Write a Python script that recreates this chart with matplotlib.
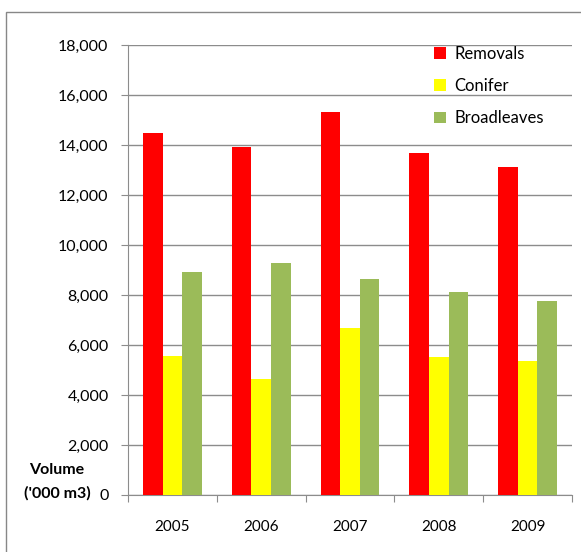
import numpy as np
import matplotlib
matplotlib.use('Agg')
import matplotlib.pyplot as plt
from matplotlib.patches import Rectangle
from matplotlib.ticker import FuncFormatter

plt.rcParams['font.family'] = ['Lato', 'DejaVu Sans']

years = ['2005', '2006', '2007', '2008', '2009']
removals = [14470, 13930, 15310, 13670, 13120]
conifer = [5570, 4640, 6670, 5520, 5360]
broadleaves = [8910, 9280, 8630, 8130, 7760]

series = [
    ('Removals', removals, '#ff0000'),
    ('Conifer', conifer, '#ffff00'),
    ('Broadleaves', broadleaves, '#9bbb59'),
]

fig = plt.figure(figsize=(5.81, 5.52), dpi=100)
ax = fig.add_axes([128 / 581, 1 - 495 / 552, 444 / 581, 450 / 552])

# outer chart frame (left and top edges show inside the canvas)
fig.patches.append(Rectangle((6 / 581, -0.1), 1.2, 1 - 12 / 552 + 0.1,
                             transform=fig.transFigure, fill=False,
                             edgecolor='#878787', linewidth=1.0, zorder=0))

x = np.arange(len(years))
width = 0.22
for k, (name, vals, color) in enumerate(series):
    ax.bar(x + (k - 1) * width, vals, width, color=color, label=name, zorder=3)

ax.set_xlim(-0.5, len(years) - 0.5)
ax.set_ylim(0, 18000)
ax.set_yticks(np.arange(0, 18001, 2000))
ax.yaxis.set_major_formatter(FuncFormatter(lambda v, p: f'{int(v):,}'))
ax.yaxis.grid(True, color='#8c8c8c', linewidth=1.0, zorder=0)

# category ticks sit on the group boundaries
ax.set_xticks(np.arange(-0.5, len(years)), minor=False)
ax.set_xticklabels([])
ax.set_xticks(x, minor=True)
ax.set_xticklabels(years, minor=True)
ax.tick_params(axis='x', which='major', length=5, color='#8c8c8c', direction='out')
ax.tick_params(axis='x', which='minor', length=0, pad=18, labelsize=11)
ax.tick_params(axis='y', length=5, color='#8c8c8c', labelsize=11.5, pad=9)

for side in ['top', 'right']:
    ax.spines[side].set_visible(False)
for side in ['left', 'bottom']:
    ax.spines[side].set_color('#8c8c8c')

fig.text(57 / 581, 1 - 482 / 552, "Volume\n('000 m3)", ha='center', va='center',
         fontsize=11.5, fontweight='bold', linespacing=1.8)

ax.legend(loc='upper left', bbox_to_anchor=(0.656, 1.032), frameon=False,
          fontsize=12, handlelength=0.7, handleheight=0.7, handletextpad=0.5,
          labelspacing=0.98)

fig.savefig('out.png', dpi=100)
